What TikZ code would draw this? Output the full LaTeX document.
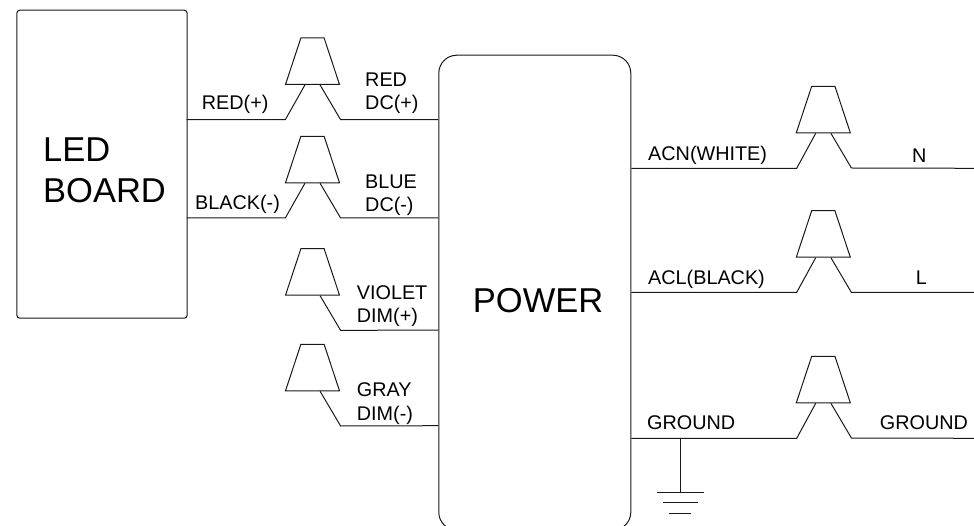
\documentclass[tikz,border=0pt]{standalone}
\usepackage{fontspec}
\setmainfont{Liberation Sans}
\usetikzlibrary{shapes.geometric}
\tikzset{
    wire/.style={line width=1pt,color=black!90},
    unit/.style={draw=black!90,line width=1pt,rectangle,anchor=north west,inner sep=0pt},
    nut/.style={draw=black!90,line width=1pt,trapezium,trapezium stretches=true,trapezium left angle=56.5,trapezium right angle=56.5,minimum width=54pt,minimum height=46.5pt,inner sep=1pt,anchor=south},
    big/.style={font=\fontsize{34.5}{41}\selectfont,align=left,inner sep=0pt,anchor=base west},
    small/.style={font=\fontsize{19.8}{23.5}\selectfont,align=left,inner sep=0pt,anchor=base west}
}
\begin{document}
\begin{tikzpicture}[x=1pt,y=-1pt]
    \useasboundingbox (0,0) rectangle (974,526);
    \node[unit,rounded corners=3pt,minimum width=170.4pt,minimum height=308pt] (board) at (16.3,9.7) {};
    \node[unit,rounded corners=18pt,minimum width=192pt,minimum height=475pt] (power) at (438.3,54.7) {};
    \node[big] (boardtext) at (43,203) {LED\\BOARD};
    \node[big] (powertext) at (472.7,312.7) {POWER};
    % connectors on the left side
    \foreach \n/\y in {a/85,b/183.3,c/295.7,d/391.3} \node[nut] (nut\n) at (312.5,\y) {};
    % connectors on the right side
    \foreach \n/\y in {e/133.3,f/257.7,g/403.3} \node[nut] (nut\n) at (823.3,\y) {};
    \coordinate (enda) at (186.7,119.7);
    \coordinate (endb) at (186.7,218);
    \coordinate (endc) at (438.3,330);
    \coordinate (endd) at (438.3,425.7);
    \coordinate (ende) at (974,168.3);
    \coordinate (endf) at (974,292.3);
    \coordinate (endg) at (974,438.3);
    \foreach \n in {a,b} \draw[wire] (end\n) -- ++(98.6,0) -- ([xshift=-7.6pt]nut\n.south);
    \foreach \n in {a,b} \draw[wire] ([xshift=7.6pt]nut\n.south) -- ++(20.5,34.7) -- (power.west |- end\n);
    \foreach \n in {c,d} \draw[wire] ([xshift=7.6pt]nut\n.south) -- ++(20.5,34.7) -- (end\n);
    \foreach \n in {e,f,g} \draw[wire] (power.east |- end\n) -- ++(165.4,0) -- ([xshift=-7.6pt]nut\n.south);
    \foreach \n in {e,f,g} \draw[wire] ([xshift=7.6pt]nut\n.south) -- ++(20.5,34.7) -- (end\n);
    % ground symbol
    \coordinate (groundtap) at (680,438.3);
    \coordinate (groundtop) at (680,492);
    \draw[wire] (groundtap) -- (groundtop);
    \draw[wire] (656.7,492) -- (703.7,492);
    \draw[wire] (663.3,502.7) -- (697.7,502.7);
    \draw[wire] (669.3,513.7) -- (691,513.7);
    % labels
    \node[small] (wirea) at (201.7,110) {RED(+)};
    \node[small] (wireb) at (195,210) {BLACK(-)};
    \node[small] (wirec) at (365,110) {RED\\DC(+)};
    \node[small] (wired) at (365,212) {BLUE\\DC(-)};
    \node[small] (wiree) at (356.7,323) {VIOLET\\DIM(+)};
    \node[small] (wiref) at (356.7,420) {GRAY\\DIM(-)};
    \node[small] (wireg) at (648,160.7) {ACN(WHITE)};
    \node[small] (wireh) at (648,285) {ACL(BLACK)};
    \node[small] (wirei) at (647,429) {GROUND};
    \node[small] (wirej) at (912,162.7) {N};
    \node[small] (wirek) at (915.7,285) {L};
    \node[small] (wirel) at (879.7,429) {GROUND};
\end{tikzpicture}
\end{document}
